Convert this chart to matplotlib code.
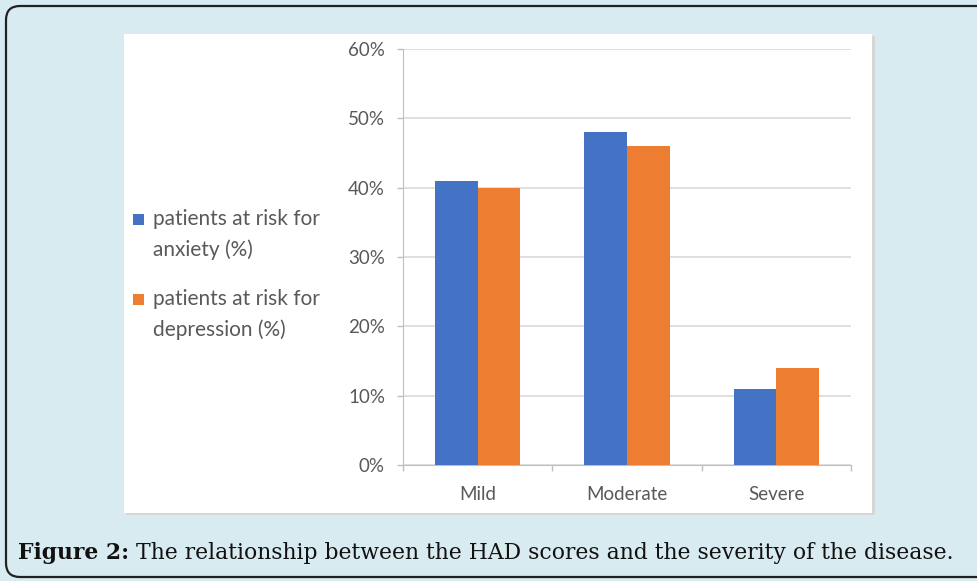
import matplotlib
matplotlib.use("Agg")
import matplotlib.pyplot as plt
from matplotlib.patches import FancyBboxPatch, Rectangle
import numpy as np

categories = ["Mild", "Moderate", "Severe"]
anxiety = [41, 48, 11]
depression = [40, 46, 14]
series_names = ["patients at risk for\nanxiety (%)", "patients at risk for\ndepression (%)"]
yticks = [0, 10, 20, 30, 40, 50, 60]
caption_bold = "Figure 2:"
caption_rest = " The relationship between the HAD scores and the severity of the disease."

W, H = 978, 581
BLUE = "#4472C4"
ORANGE = "#ED7D31"
TXT = "#595959"

fig = plt.figure(figsize=(W / 100, H / 100), dpi=100)
fig.patch.set_facecolor("#d8ebf0")

bg = fig.add_axes([0, 0, 1, 1])
bg.set_xlim(0, W)
bg.set_ylim(H, 0)
bg.axis("off")
bg.set_zorder(-1)
bg.add_patch(FancyBboxPatch((6, 6), 1000, 571, boxstyle="round,pad=0,rounding_size=14",
                            facecolor="#d8ebf0", edgecolor="#222222", linewidth=1.6))
bg.add_patch(Rectangle((126, 36), 749, 479, facecolor="#d6d6d6", edgecolor="none"))
bg.add_patch(Rectangle((124, 34), 748, 479, facecolor="white", edgecolor="none"))

# legend
fam = ["Lato", "DejaVu Sans"]
for i, (name, col) in enumerate(zip(series_names, [BLUE, ORANGE])):
    y0 = 220 + i * 80
    bg.add_patch(Rectangle((133, y0 - 6), 11, 11, facecolor=col, edgecolor="none"))
    for j, line in enumerate(name.split("\n")):
        bg.text(153, y0 + 5 + j * 31, line, fontsize=15, color=TXT, family=fam,
                va="baseline")

# caption (auto-fit to width)
cap_fam = "DejaVu Serif"
size = 14
renderer = fig.canvas.get_renderer()
t1 = bg.text(18, 559, caption_bold, fontsize=size, fontweight="bold", family=cap_fam,
             color="#111111", va="baseline")
t2 = bg.text(0, 559, caption_rest, fontsize=size, family=cap_fam, color="#111111", va="baseline")
total = t1.get_window_extent(renderer).width + t2.get_window_extent(renderer).width
size = size * 940 / total
t1.set_fontsize(size)
t2.set_fontsize(size)
t2.set_x(18 + t1.get_window_extent(renderer).width)

# chart
ax = fig.add_axes([403 / W, (H - 465) / H, 448 / W, (465 - 49) / H])
x = np.arange(len(categories))
bw = 0.285
ax.bar(x - bw / 2, anxiety, bw, color=BLUE, zorder=3)
ax.bar(x + bw / 2, depression, bw, color=ORANGE, zorder=3)
ax.set_xlim(-0.5, len(categories) - 0.5)
ax.set_ylim(0, 60)
ax.set_yticks(yticks)
ax.set_yticklabels([f"{v}%" for v in yticks])
ax.set_xticks(x)
ax.set_xticklabels(categories)
ax.set_xticks([-0.5, 0.5, 1.5, 2.5], minor=True)
ax.tick_params(axis="x", which="major", length=0, pad=15)
ax.tick_params(axis="x", which="minor", length=4, color="#bfbfbf", width=1)
ax.tick_params(axis="y", length=4, color="#bfbfbf", width=1, pad=9)
for lab in ax.get_xticklabels() + ax.get_yticklabels():
    lab.set_family(fam)
    lab.set_fontsize(13.5)
    lab.set_color(TXT)
ax.grid(axis="y", color="#d9d9d9", linewidth=1.2, zorder=0)
for s in ["top", "right"]:
    ax.spines[s].set_visible(False)
ax.spines["left"].set_color("#bfbfbf")
ax.spines["bottom"].set_color("#bfbfbf")
ax.set_facecolor("white")

fig.savefig("out.png", dpi=100, facecolor=fig.get_facecolor())
